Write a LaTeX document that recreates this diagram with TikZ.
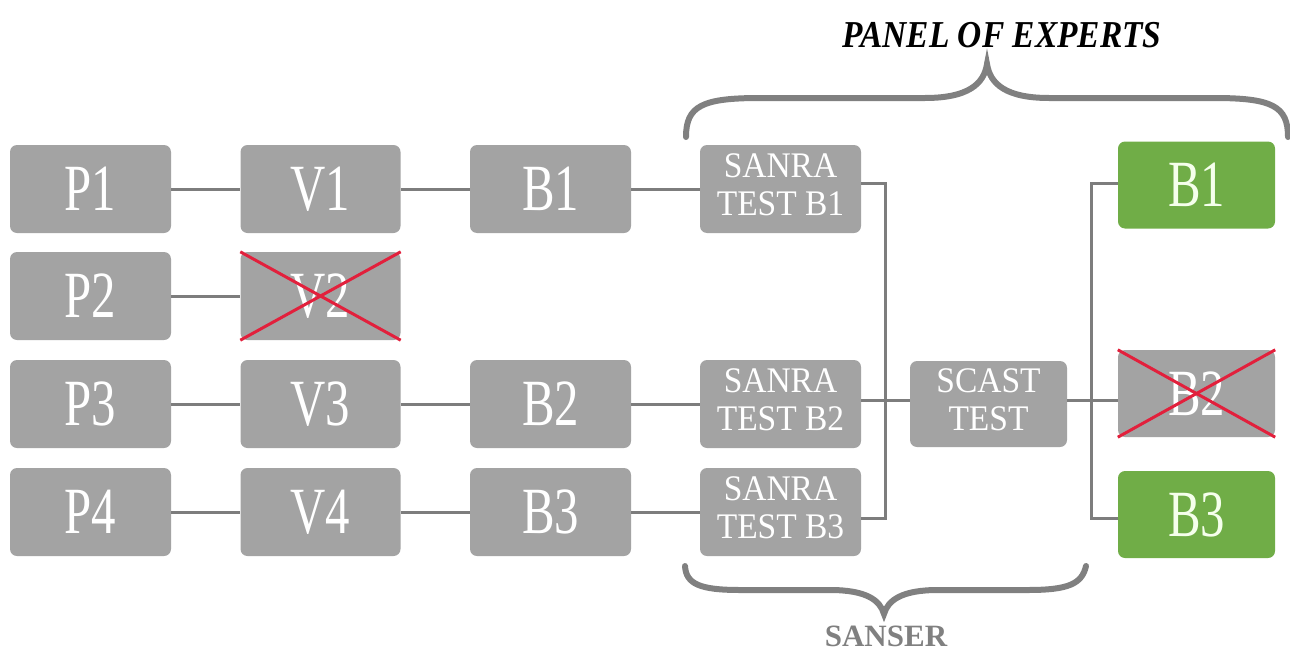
\documentclass[tikz,border=0pt]{standalone}
\usepackage{fontspec}
\setmainfont{Liberation Serif}
\usepackage{graphicx}

\definecolor{boxgray}{RGB}{163,163,163}
\definecolor{boxgreen}{RGB}{112,173,71}
\definecolor{linegray}{RGB}{125,125,125}
\definecolor{bracegray}{RGB}{128,128,128}
\definecolor{crossred}{RGB}{226,32,60}
\definecolor{greentext}{RGB}{245,255,236}

\newcommand{\narrow}[2]{\scalebox{#1}[1]{#2}}
\newcommand{\twolines}[2]{\narrow{0.93}{\begin{tabular}{@{}c@{}}#1\\#2\end{tabular}}}

\begin{document}
\begin{tikzpicture}[x=1pt,y=-1pt,
  box/.style={fill=boxgray, rounded corners=7pt, text=white, inner sep=0pt,
              minimum width=161pt, minimum height=88pt},
  okbox/.style={box, fill=boxgreen, text=greentext, minimum width=157pt, minimum height=87pt},
  big/.style={font=\fontsize{66}{66}\selectfont},
  small/.style={font=\fontsize{36}{38}\selectfont},
  link/.style={draw=linegray, line width=3pt},
  brace/.style={draw=bracegray, line width=6pt, line cap=round},
  cross/.style={draw=crossred, line width=3pt}]

\useasboundingbox (0,0) rectangle (1290,653);

% sample rows: P -> V -> B
\node[box,big] (p1) at (90.5,189) {\narrow{0.74}{P1}};
\node[box,big] (p2) at (90.5,296) {\narrow{0.74}{P2}};
\node[box,big] (p3) at (90.5,404) {\narrow{0.74}{P3}};
\node[box,big] (p4) at (90.5,512) {\narrow{0.74}{P4}};

\node[box,big,minimum width=160pt] (v1) at (320.5,189) {\narrow{0.74}{V1}};
\node[box,big,minimum width=160pt] (v2) at (320.5,296) {\narrow{0.74}{V2}};
\node[box,big,minimum width=160pt] (v3) at (320.5,404) {\narrow{0.74}{V3}};
\node[box,big,minimum width=160pt] (v4) at (320.5,512) {\narrow{0.74}{V4}};

\node[box,big] (b1) at (550.5,189) {\narrow{0.74}{B1}};
\node[box,big] (b2) at (550.5,404) {\narrow{0.74}{B2}};
\node[box,big] (b3) at (550.5,512) {\narrow{0.74}{B3}};

% SANRA tests
\node[box,small] (s1) at (780.5,189) {\twolines{SANRA}{TEST B1}};
\node[box,small] (s2) at (780.5,404) {\twolines{SANRA}{TEST B2}};
\node[box,small] (s3) at (780.5,512) {\twolines{SANRA}{TEST B3}};

% SCAST test
\node[box,small,minimum width=157pt,minimum height=86pt] (scast) at (988.5,404) {\twolines{SCAST}{TEST}};

% outcome
\node[okbox,big] (g1) at (1196.5,185) {\narrow{0.74}{B1}};
\node[box,big,minimum width=157pt,minimum height=87pt] (g2) at (1196.5,393.5) {\narrow{0.74}{B2}};
\node[okbox,big] (g3) at (1196.5,514.5) {\narrow{0.74}{B3}};

% straight links
\draw[link] (p1) -- (v1);
\draw[link] (p2) -- (v2);
\draw[link] (p3) -- (v3);
\draw[link] (p4) -- (v4);
\draw[link] (v1) -- (b1);
\draw[link] (v3) -- (b2);
\draw[link] (v4) -- (b3);
\draw[link] (b1) -- (s1);
\draw[link] (b2) -- (s2);
\draw[link] (b3) -- (s3);

% collector into SCAST
\coordinate (ltop) at (885,183);
\coordinate (lmid) at (885,400);
\coordinate (lbot) at (885,518);
\draw[link] (s1.east |- ltop) -- (ltop) -- (lbot) -- (s3.east |- lbot);
\draw[link] (s2.east |- lmid) -- (scast.west |- lmid);

% distributor out of SCAST
\coordinate (rtop) at (1091,183);
\coordinate (rmid) at (1091,400);
\coordinate (rbot) at (1091,518);
\draw[link] (g1.west |- rtop) -- (rtop) -- (rbot) -- (g3.west |- rbot);
\draw[link] (scast.east |- rmid) -- (g2.west |- rmid);

% rejected items
\draw[cross] (v2.north west) -- (v2.south east);
\draw[cross] (v2.south west) -- (v2.north east);
\draw[cross] (g2.north west) -- (g2.south east);
\draw[cross] (g2.south west) -- (g2.north east);

% panel brace
\draw[brace] (686,137) .. controls (686,106) and (702,98) .. (760,98)
  -- (925,98) .. controls (968,98) and (984,84) .. (987,64)
  .. controls (990,84) and (1006,98) .. (1049,98)
  -- (1214,98) .. controls (1272,98) and (1288,106) .. (1288,137);
\node[font=\fontsize{38}{38}\selectfont\bfseries\itshape] (title) at (1002,35.5)
  {\narrow{0.88}{PANEL OF EXPERTS}};

% SANSER brace
\draw[brace] (685,566) .. controls (686,584) and (700,590) .. (740,590)
  -- (830,590) .. controls (866,590) and (880,600) .. (884,614)
  .. controls (888,600) and (902,590) .. (938,590)
  -- (1028,590) .. controls (1068,590) and (1082,584) .. (1086,566);
\node[font=\fontsize{31}{31}\selectfont\bfseries, text=bracegray, inner sep=0pt] (sanser) at (886,636) {SANSER};

\end{tikzpicture}
\end{document}
